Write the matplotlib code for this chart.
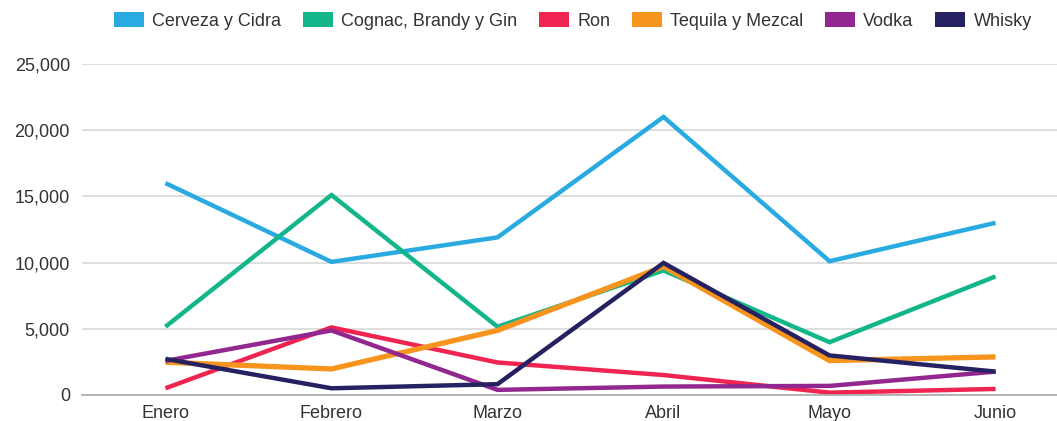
import numpy as np
import matplotlib.pyplot as plt
from matplotlib.patches import Patch

plt.rcParams['font.family'] = ['Liberation Sans', 'DejaVu Sans']

meses = ['Enero', 'Febrero', 'Marzo', 'Abril', 'Mayo', 'Junio']

cerveza = [16000, 10050, 11900, 21000, 10100, 13000]
cognac = [5150, 15100, 5150, 9400, 3980, 8950]
ron = [500, 5100, 2450, 1500, 170, 450]
tequila = [2470, 1960, 4870, 9700, 2590, 2870]
vodka = [2570, 4870, 380, 630, 680, 1760]
whisky = [2720, 500, 810, 9970, 2980, 1760]

series = [
    ('Cerveza y Cidra', cerveza, '#29abe2', 3.2),
    ('Cognac, Brandy y Gin', cognac, '#13b68a', 3.2),
    ('Ron', ron, '#ef2450', 3.2),
    ('Tequila y Mezcal', tequila, '#f7941d', 3.8),
    ('Vodka', vodka, '#92278f', 3.2),
    ('Whisky', whisky, '#262262', 3.2),
]

fig = plt.figure(figsize=(10.57, 4.21), dpi=100)
ax = fig.add_axes([0.078, 0.062, 0.922, 0.786])

x = np.arange(len(meses))
for name, vals, color, lw in series:
    ax.plot(x, vals, color=color, lw=lw, solid_capstyle='butt', solid_joinstyle='miter')

ax.set_ylim(0, 25000)
ax.set_xlim(-0.5, 5.37)
ax.set_yticks(np.arange(0, 25001, 5000))
ax.set_yticklabels(['{:,}'.format(v) for v in range(0, 25001, 5000)])
ax.set_xticks(x)
ax.set_xticklabels(meses)
ax.tick_params(length=0, labelsize=13, colors='#333333')
ax.tick_params(axis='y', pad=9)
ax.tick_params(axis='x', pad=7)

ax.grid(axis='y', color='#d9d9d9', lw=1.2)
ax.set_axisbelow(True)
for s in ['top', 'right', 'left']:
    ax.spines[s].set_visible(False)
ax.spines['bottom'].set_color('#aaaaaa')
ax.spines['bottom'].set_linewidth(1.2)

handles = [Patch(facecolor=c, label=n) for n, _, c, _ in series]
fig.legend(handles=handles, loc='center', bbox_to_anchor=(0.542, 0.95), ncol=6,
           frameon=False, fontsize=13, handlelength=1.67, handleheight=0.9,
           handletextpad=0.45, columnspacing=1.2, labelcolor='#333333')

fig.savefig('out.png', dpi=100)
